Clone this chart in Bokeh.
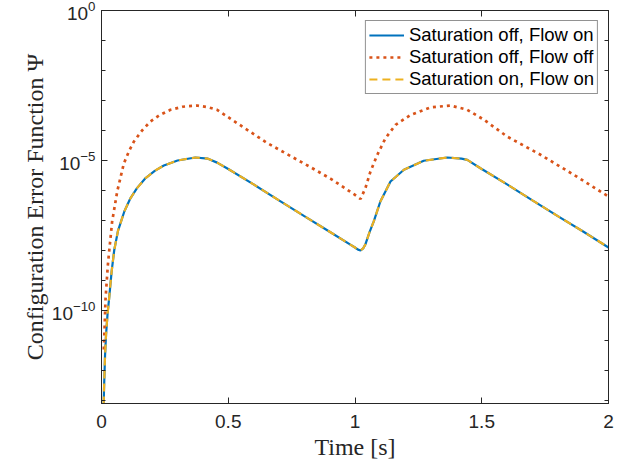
from bokeh.plotting import figure
from bokeh.models import Range1d, FixedTicker, LinearAxis, LogAxis, CustomJSTickFormatter
from bokeh.embed import file_html
from bokeh.resources import INLINE

# ---- data ----
time_flow_on = [0.006, 0.010, 0.014, 0.018, 0.024, 0.030, 0.040, 0.050, 0.065, 0.090,
                0.114, 0.140, 0.174, 0.210, 0.246, 0.300, 0.370, 0.420, 0.456, 0.500,
                0.600, 0.700, 0.800, 0.900, 0.980, 1.000, 1.012, 1.022, 1.032, 1.041,
                1.057, 1.074, 1.100, 1.140, 1.193, 1.271, 1.364, 1.420, 1.443, 1.495,
                1.600, 1.700, 1.800, 1.900, 2.000]
sat_off_flow_on = [1.0e-14, 2.5e-13, 3.2e-12, 1.6e-11, 7.9e-11, 2.5e-10, 2.0e-9, 1.0e-8, 4.5e-8, 2.0e-7,
                   5.5e-7, 1.2e-6, 2.6e-6, 4.5e-6, 6.8e-6, 1.0e-5, 1.26e-5, 1.15e-5, 8.5e-6, 5.2e-6,
                   1.6e-6, 4.7e-7, 1.4e-7, 4.2e-8, 1.6e-8, 1.26e-8, 1.07e-8, 1.0e-8, 1.17e-8, 1.6e-8,
                   4.0e-8, 9.3e-8, 4.3e-7, 2.0e-6, 4.9e-6, 9.8e-6, 1.26e-5, 1.15e-5, 1.05e-5, 5.5e-6,
                   1.6e-6, 4.7e-7, 1.4e-7, 4.3e-8, 1.26e-8]
sat_on_flow_on = [1.0e-14, 2.5e-13, 3.2e-12, 1.6e-11, 7.9e-11, 2.5e-10, 2.0e-9, 1.0e-8, 4.5e-8, 2.0e-7,
                  5.5e-7, 1.2e-6, 2.6e-6, 4.5e-6, 6.8e-6, 1.0e-5, 1.26e-5, 1.15e-5, 8.5e-6, 5.2e-6,
                  1.6e-6, 4.7e-7, 1.4e-7, 4.2e-8, 1.6e-8, 1.26e-8, 1.07e-8, 1.0e-8, 1.17e-8, 1.6e-8,
                  4.0e-8, 9.3e-8, 4.3e-7, 2.0e-6, 4.9e-6, 9.8e-6, 1.26e-5, 1.15e-5, 1.05e-5, 5.5e-6,
                  1.6e-6, 4.7e-7, 1.4e-7, 4.3e-8, 1.26e-8]

time_flow_off = [0.009, 0.012, 0.016, 0.020, 0.025, 0.030, 0.042, 0.062, 0.088, 0.110,
                 0.128, 0.160, 0.193, 0.230, 0.272, 0.320, 0.377, 0.420, 0.456, 0.508,
                 0.575, 0.650, 0.746, 0.820, 0.903, 0.960, 1.000, 1.022, 1.041, 1.061,
                 1.088, 1.120, 1.160, 1.219, 1.298, 1.377, 1.443, 1.508, 1.600, 1.732,
                 1.864, 2.000]
sat_off_flow_off = [5.0e-12, 2.5e-11, 2.5e-10, 7.9e-10, 3.2e-9, 8.9e-9, 9.3e-8, 9.3e-7, 7.9e-6, 2.2e-5,
                    4.3e-5, 1.0e-4, 2.0e-4, 3.3e-4, 4.9e-4, 6.2e-4, 6.8e-4, 6.0e-4, 4.9e-4, 2.5e-4,
                    1.05e-4, 4.0e-5, 1.4e-5, 6.3e-6, 2.5e-6, 1.2e-6, 7.1e-7, 5.2e-7, 1.2e-6, 4.3e-6,
                    1.55e-5, 5.5e-5, 1.55e-4, 3.3e-4, 5.9e-4, 6.8e-4, 4.9e-4, 2.3e-4, 6.3e-5, 1.55e-5,
                    3.3e-6, 6.3e-7]

legend_labels = ["Saturation off, Flow on", "Saturation off, Flow off", "Saturation on, Flow on"]
x_ticks = [0, 0.5, 1, 1.5, 2]
y_major_ticks = [1e-10, 1e-5, 1e0]
y_minor_ticks = [1e-13, 1e-12, 1e-11, 1e-10, 1e-9, 1e-8, 1e-7, 1e-6, 1e-5, 1e-4, 1e-3, 1e-2, 1e-1, 1e0]
x_label = "Time [s]"
y_label = "Configuration Error Function \u03a8"

AX = "#262626"
SANS = "Liberation Sans"
SERIF = "Liberation Serif"

p = figure(width=636, height=468, y_axis_type="log",
           x_range=Range1d(0, 2), y_range=Range1d(10 ** -13.1, 1.0),
           output_backend="svg", toolbar_location=None,
           min_border_left=101, min_border_right=28, min_border_top=10, min_border_bottom=65)
p.background_fill_color = "white"
p.border_fill_color = "white"
p.outline_line_color = AX
p.outline_line_width = 1
p.xgrid.visible = False
p.ygrid.visible = False

p.line(time_flow_on, sat_off_flow_on, line_color="#0072BD", line_width=2.2,
       legend_label=legend_labels[0])
p.line(time_flow_off, sat_off_flow_off, line_color="#D95319", line_width=2.7,
       line_dash="3 4", legend_label=legend_labels[1])
p.line(time_flow_on, sat_on_flow_on, line_color="#EDB120", line_width=2.2,
       line_dash="8 5", legend_label=legend_labels[2])


def style_axis(ax):
    ax.axis_line_color = AX
    ax.axis_line_width = 1
    ax.major_tick_line_color = AX
    ax.minor_tick_line_color = AX
    ax.major_tick_in = 6
    ax.major_tick_out = 0
    ax.minor_tick_in = 4
    ax.minor_tick_out = 0
    ax.major_label_text_color = AX
    ax.major_label_text_font = SANS
    ax.major_label_text_font_size = "19px"


xa = p.xaxis[0]
xa.ticker = FixedTicker(ticks=x_ticks)
style_axis(xa)
xa.major_label_standoff = 11
xa.axis_label = x_label
xa.axis_label_text_font = SERIF
xa.axis_label_text_font_style = "normal"
xa.axis_label_text_font_size = "24px"
xa.axis_label_text_color = AX
xa.axis_label_standoff = 3

ya = p.yaxis[0]
ya.ticker = FixedTicker(ticks=y_major_ticks, minor_ticks=y_minor_ticks)
style_axis(ya)
ya.major_label_standoff = 6
ya.axis_label = y_label
ya.axis_label_text_font = SERIF
ya.axis_label_text_font_style = "normal"
ya.axis_label_text_font_size = "24px"
ya.axis_label_text_color = AX
ya.axis_label_standoff = 1

top_ax = LinearAxis(ticker=FixedTicker(ticks=x_ticks),
                    formatter=CustomJSTickFormatter(code="return '';"))
style_axis(top_ax)
top_ax.major_label_standoff = 0
p.add_layout(top_ax, "above")

right_ax = LogAxis(ticker=FixedTicker(ticks=y_major_ticks, minor_ticks=y_minor_ticks),
                   formatter=CustomJSTickFormatter(code="return '';"))
style_axis(right_ax)
right_ax.major_label_standoff = 0
p.add_layout(right_ax, "right")

lg = p.legend[0]
lg.location = "top_right"
lg.margin = 10
lg.padding = 3
lg.spacing = 0
lg.glyph_width = 35
lg.glyph_height = 20
lg.label_height = 20
lg.label_standoff = 5
lg.label_text_font = SANS
lg.label_text_font_size = "18.5px"
lg.label_text_color = "#000000"
lg.border_line_color = AX
lg.border_line_width = 1
lg.background_fill_color = "white"
lg.background_fill_alpha = 1.0

open("out.html", "w").write(file_html(p, INLINE))
